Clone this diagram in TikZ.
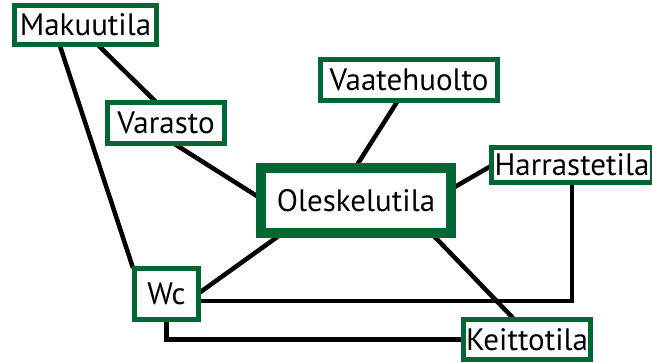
\documentclass[tikz,border=0pt]{standalone}
\usepackage{fontspec}
\setmainfont{PT Sans}
\usetikzlibrary{calc,backgrounds}
\definecolor{boxgreen}{RGB}{0,102,51}
\begin{document}
\begin{tikzpicture}[x=1pt,y=-1pt,
  room/.style={draw=boxgreen,line width=5pt,fill=white,inner sep=0pt,
    font=\fontsize{31}{37}\selectfont,text=black},
  mainroom/.style={room,line width=10pt},
  link/.style={draw=black,line width=4.5pt}]
\useasboundingbox (0,0) rectangle (652,363);
\node[room,minimum width=142pt,minimum height=39pt] (mak) at (85.5,25) {Makuutila};
\node[room,minimum width=117pt,minimum height=41pt] (var) at (166,123) {Varasto};
\node[room,minimum width=177pt,minimum height=41pt] (vaa) at (409,80) {Vaatehuolto};
\node[room,minimum width=161pt,minimum height=35pt] (har) at (572,165) {Harrastetila};
\node[mainroom,minimum width=190pt,minimum height=65pt] (ole) at (356,200.5) {Oleskelutila};
\node[room,minimum width=64pt,minimum height=51pt] (wc) at (166.5,294) {Wc};
\node[room,minimum width=127pt,minimum height=40pt] (kei) at (527,339.5) {Keittotila};
\begin{scope}[on background layer]
\draw[link] ($(mak)+(12.5,20)$) -- ($(var)+(-10,-21)$);
\draw[link] ($(mak)+(-25.5,21)$) -- ($(wc)+(-33.5,-26)$);
\draw[link] ($(var)+(7,20)$) -- ($(ole)+(-96,-2.5)$);
\draw[link] ($(vaa)+(-12,22)$) -- ($(ole)+(1,-35.5)$);
\draw[link] ($(har)+(-81,1)$) -- ($(ole)+(97,-12.5)$);
\draw[link] ($(ole)+(-76,34.5)$) -- ($(wc)+(32.5,-1)$);
\draw[link] ($(ole)+(77,34.5)$) -- ($(kei)+(-14,-21.5)$);
\draw[link] (har.south) |- ($(wc.east)+(0,7)$);
\draw[link] (wc.south) |- (kei.west);
\end{scope}
\end{tikzpicture}
\end{document}
